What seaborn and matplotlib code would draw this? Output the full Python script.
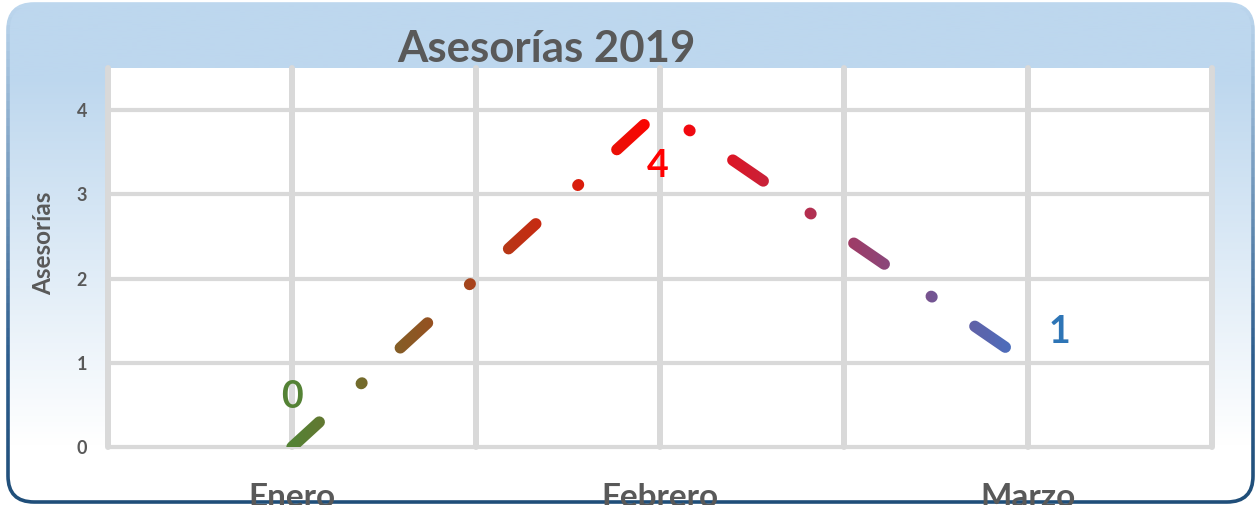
import numpy as np
import seaborn as sns
import matplotlib.pyplot as plt
from matplotlib.colors import LinearSegmentedColormap
from matplotlib.patches import FancyBboxPatch
from matplotlib.transforms import Bbox, TransformedBbox

# data
months = ["Enero", "Febrero", "Marzo"]
asesorias = [0, 4, 1]

# styling
label_colors = ["#548235", "#FF0000", "#2E75B6"]
label_offsets = [(0, 36), (-1.5, -40), (23, 22)]  # points
line_colors = ["#548235", "#FF0000", "#4472C4"]
text_gray = "#595959"
grid_gray = "#D9D9D9"

sns.set_style("white")
plt.rcParams["font.family"] = ["Lato", "DejaVu Sans"]
plt.rcParams["lines.scale_dashes"] = False

W, H = 1255, 505
fig = plt.figure(figsize=(W / 100, H / 100), dpi=100)
fig.patch.set_facecolor("white")

# rounded card with vertical gradient behind everything
bg = fig.add_axes([0, 0, 1, 1], zorder=-5)
bg.set_xlim(0, W)
bg.set_ylim(0, H)
bg.axis("off")
card = FancyBboxPatch((8, 3), 1245, 498, boxstyle="round,pad=0,rounding_size=26",
                      facecolor="none", edgecolor="none")
bg.add_patch(card)
bg_cmap = LinearSegmentedColormap.from_list("bgc", [(0, "#FFFFFF"), (0.12, "#FFFFFF"),
                                                   (0.85, "#BDD7EE"), (1, "#BDD7EE")])
im = bg.imshow(np.linspace(0, 1, 256).reshape(-1, 1), extent=[0, W, 0, H], origin="lower",
               cmap=bg_cmap, aspect="auto")
im.set_clip_path(card)

# border fading from dark blue at the bottom to the light fill at the top
border_cmap = LinearSegmentedColormap.from_list("brd", [(0, "#1F4E79"), (0.3, "#2E5E8E"),
                                                       (1, "#BDD7EE")])
nb = 60
for i in range(nb):
    y0, y1 = i * H / nb, (i + 1) * H / nb
    edge = FancyBboxPatch((8, 3), 1245, 498, boxstyle="round,pad=0,rounding_size=26",
                          facecolor="none", edgecolor=border_cmap(i / (nb - 1)), lw=2.6)
    bg.add_patch(edge)
    edge.set_clip_box(TransformedBbox(Bbox([[0, y0], [W, y1]]), bg.transData))

# plot area
ax = fig.add_axes([108 / W, 58 / H, 1104 / W, 379 / H])
ax.set_facecolor("white")
sns.lineplot(x=months, y=asesorias, ax=ax, sort=False)
base = ax.lines[0]
xy = base.get_xydata()
base.remove()

ax.set_xlim(-0.5, 2.5)
ax.set_ylim(0, 4.5)

# gradient dash-dot line: same dashed path drawn in thin vertical strips
line_cmap = LinearSegmentedColormap.from_list("trend", line_colors)
edges = np.linspace(-0.1, 2.1, 221)
for x0, x1 in zip(edges[:-1], edges[1:]):
    c = line_cmap(np.clip((x0 + x1) / 4, 0, 1))
    ln, = ax.plot(xy[:, 0], xy[:, 1], color=c, lw=8.2,
                  linestyle=(0, (26.6, 41, 0.7, 37.4)),
                  dash_capstyle="round", solid_capstyle="round", zorder=3)
    ln.set_clip_box(TransformedBbox(Bbox([[x0, 0], [x1, 4.5]]), ax.transData))

# data labels
for i, v in enumerate(asesorias):
    ax.annotate(str(v), (xy[i, 0], xy[i, 1]), xytext=label_offsets[i],
                textcoords="offset points", ha="center", va="center",
                fontsize=27, fontweight="bold", color=label_colors[i],
                annotation_clip=False, zorder=4)

# axes, ticks, grid
ax.set_xticks(range(len(months)))
ax.set_xticklabels(months)
ax.set_xticks(np.arange(-0.5, 2.6, 1), minor=True)
ax.set_yticks(range(5))
ax.set_axisbelow(True)
ax.grid(True, which="both", axis="x", color=grid_gray, lw=4.3)
ax.grid(True, axis="y", color=grid_gray, lw=3)
for t in ax.xaxis.get_major_ticks() + ax.xaxis.get_minor_ticks() + ax.yaxis.get_major_ticks():
    t.gridline.set_clip_on(False)
for s in ax.spines.values():
    s.set_visible(False)
ax.tick_params(which="both", length=0)
ax.tick_params(axis="x", labelsize=24, pad=26, labelcolor=text_gray)
ax.tick_params(axis="y", labelsize=13, pad=15, labelcolor=text_gray)
plt.setp(ax.get_xticklabels() + ax.get_yticklabels(), fontweight="bold")

ax.set_ylabel("Asesorías", fontsize=17.5, fontweight="bold", color=text_gray)
ax.yaxis.set_label_coords(-0.048, 0.538)
ax.set_xlabel("")
ax.set_title("Asesorías 2019", fontsize=31.5, fontweight="bold", color=text_gray,
             x=(546 - 108) / 1104, y=1 + 6 / 379, pad=0)

fig.savefig("out.png", dpi=100)
